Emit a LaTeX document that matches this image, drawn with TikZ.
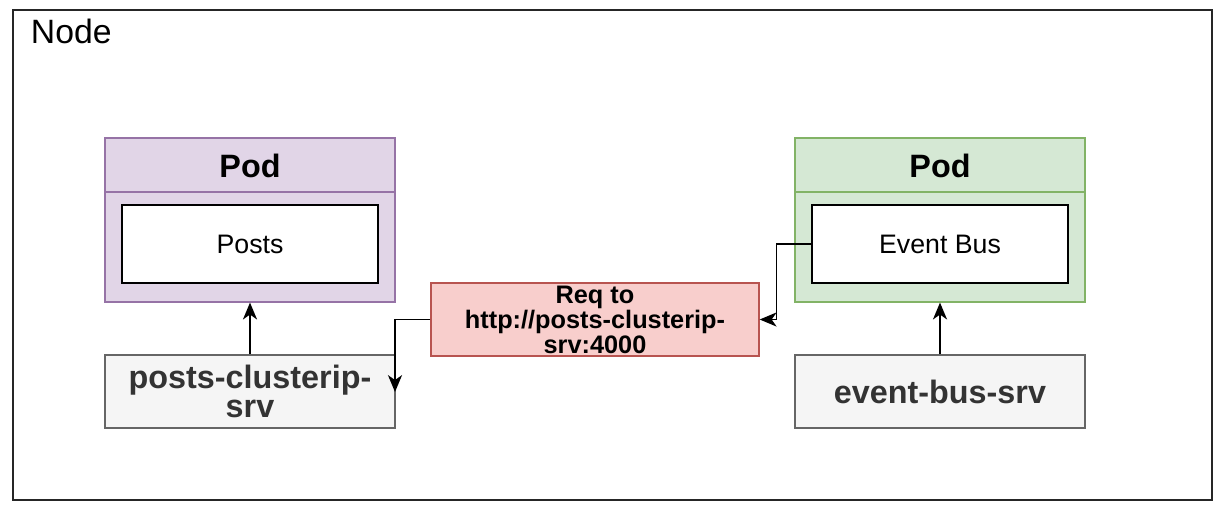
\documentclass[tikz,border=0pt]{standalone}
\usepackage{fontspec}
\setmainfont{Liberation Sans}
\usetikzlibrary{arrows.meta}
\definecolor{purplefill}{HTML}{E1D5E7}
\definecolor{purpleline}{HTML}{9673A6}
\definecolor{greenfill}{HTML}{D5E8D4}
\definecolor{greenline}{HTML}{82B366}
\definecolor{redfill}{HTML}{F8CECC}
\definecolor{redline}{HTML}{B85450}
\definecolor{srvfill}{HTML}{F5F5F5}
\definecolor{srvline}{HTML}{666666}
\definecolor{srvtext}{HTML}{333333}
\tikzset{
	podbox/.style={draw=#1, line width=0.8pt, minimum width=7.25cm, minimum height=4.1cm, inner sep=0pt},
	podtitle/.style={font=\fontsize{23}{28}\selectfont\bfseries},
	appbox/.style={draw=black, fill=white, line width=1.4pt, minimum width=6.375cm, minimum height=1.95cm, font=\fontsize{19}{23}\selectfont},
	srvbox/.style={draw=srvline, fill=srvfill, text=srvtext, line width=0.9pt, minimum width=7.25cm, minimum height=1.825cm, inner sep=0pt, align=center, font=\fontsize{23}{21}\selectfont\bfseries},
	reqbox/.style={draw=redline, fill=redfill, line width=0.9pt, minimum width=8.2cm, minimum height=1.825cm, inner sep=0pt, align=center, font=\fontsize{18}{17.8}\selectfont\bfseries},
	arr/.style={-{Stealth[length=12pt,width=10pt,inset=3.5pt]}, line width=1.3pt}
}
\begin{document}
\begin{tikzpicture}[x=0.025cm, y=-0.025cm]
			\useasboundingbox (0,0) rectangle (1224,513);
			\draw[line width=1.4pt, draw=black!85] (13,10) rectangle (1212,500);
			\node[anchor=base west, font=\fontsize{24}{28}\selectfont] (nodelabel) at (26,44) {Node};
			\node[podbox=purpleline, fill=purplefill] (podL) at (250,220) {};
			\draw[purpleline, line width=0.8pt] (105,192) -- (395,192);
			\node[podtitle] (podLtitle) at (250,166) {Pod};
			\node[appbox] (posts) at (250,244) {Posts};
			\node[podbox=greenline, fill=greenfill] (podR) at (940,220) {};
			\draw[greenline, line width=0.8pt] (795,192) -- (1085,192);
			\node[podtitle] (podRtitle) at (940,166) {Pod};
			\node[appbox] (bus) at (940,244) {Event Bus};
			\node[srvbox] (postssrv) at (250,391.5) {posts-clusterip-\\srv};
			\node[srvbox] (bussrv) at (940,391.5) {event-bus-srv};
			\node[reqbox] (req) at (595,319.5) {Req to\\http://posts-clusterip-\\srv:4000};
			\coordinate (reqend) at (395,392);
			\draw[arr] (postssrv.north) -- (podL.south);
			\draw[arr] (bussrv.north) -- (podR.south);
			\draw[arr] (bus.west) -- ++(-35,0) |- (req.east);
			\draw[arr] (req.west) -| (reqend);
			\end{tikzpicture}
\end{document}
